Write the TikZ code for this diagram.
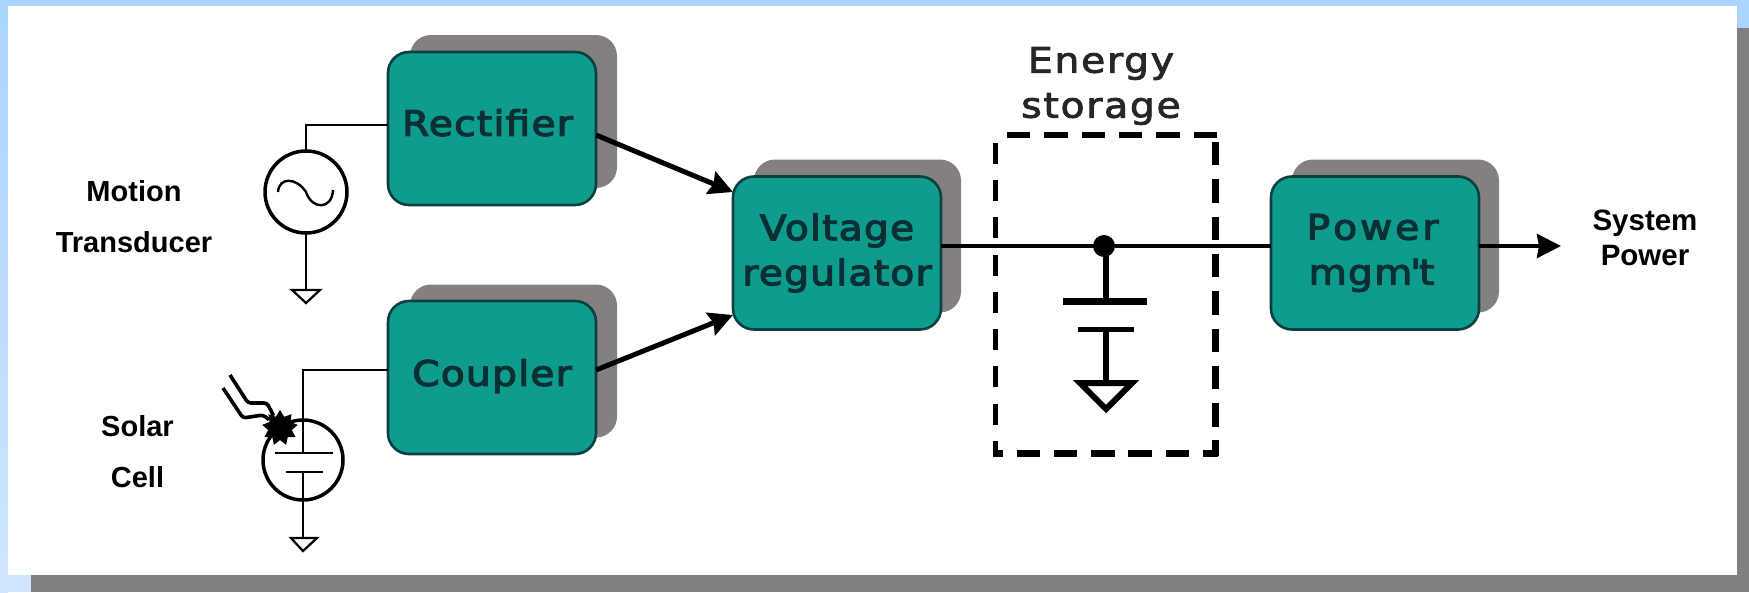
\documentclass[tikz,border=0pt]{standalone}
\usepackage{fontspec}
\usetikzlibrary{calc,arrows.meta,shapes.geometric}
\setmainfont{Liberation Sans}
\newfontfamily\boxfont[FakeStretch=1.12,LetterSpace=3.5,FakeBold=3.5]{DejaVu Sans}
\newfontfamily\capfont[FakeStretch=1.12,LetterSpace=5,FakeBold=2.5]{DejaVu Sans}
\definecolor{topblue}{HTML}{AAD4FF}
\definecolor{lowblue}{HTML}{CFE6FF}
\definecolor{framegray}{HTML}{808080}
\definecolor{shadowgray}{HTML}{858080}
\definecolor{tealfill}{HTML}{0F9C8D}
\definecolor{tealedge}{HTML}{0B3F42}
\definecolor{tealtext}{HTML}{0A2F35}
\tikzset{
  blockbox/.style={draw=tealedge,line width=2.6pt,fill=tealfill,rounded corners=21pt,
    minimum width=208pt,minimum height=153pt,inner sep=0pt,outer sep=0pt,
    text=tealtext,align=center,font=\boxfont\fontsize{35}{45}\selectfont},
  blockshade/.style={fill=shadowgray,rounded corners=21pt,
    minimum width=207pt,minimum height=153pt,inner sep=0pt,outer sep=0pt},
  srcring/.style={circle,draw=black,line width=3.5pt,fill=white,minimum size=82pt,inner sep=0pt,outer sep=0pt},
  thinwire/.style={draw=black,line width=2.2pt},
  thickwire/.style={draw=black,line width=4pt},
  feedarrow/.style={draw=black,line width=5pt,-{Stealth[length=24pt,width=24pt,inset=3pt]}},
  outarrow/.style={draw=black,line width=4pt,-{Stealth[length=24pt,width=24pt,inset=2pt]}},
  smalllabel/.style={align=center,inner sep=0pt,font=\bfseries\fontsize{29}{51}\selectfont},
  storeedge/.style={draw=black,line cap=butt},
}
\begin{document}
\begin{tikzpicture}[x=1pt,y=-1pt]
\useasboundingbox (0,0) rectangle (1749,592);
% frame
\fill[topblue] (0,0) rectangle (1749,592);
\shade[top color=topblue,bottom color=lowblue] (0,0) rectangle (8,592);
\fill[lowblue] (0,575) rectangle (31,592);
\fill[framegray] (1737,28) rectangle (1749,592);
\fill[framegray] (31,575) rectangle (1749,592);
\fill[white] (8,6) rectangle (1737,575);
% shadows
\node[blockshade] (rectshade) at (513.5,111.5) {};
\node[blockshade] (coupshade) at (513.5,361) {};
\node[blockshade] (voltshade) at (857.5,236) {};
\node[blockshade] (powshade) at (1395.5,236) {};
% blocks
\node[blockbox,text depth=12pt] (rect) at (492,128.5) {\hspace*{-9pt}Rectifier};
\node[blockbox,text depth=10pt] (coup) at (492,377.5) {Coupler};
\node[blockbox] (volt) at (837,253) {Voltage\\regulator};
\node[blockbox] (pow) at (1375,253) {\hspace*{-5pt}P\kern3pt o\kern3pt w\kern3pt e\kern3pt r\\\hspace*{-7pt}mgm\kern-2pt'\kern-2pt t};
% labels
\node[smalllabel] (motion) at (134,216.5) {Motion\\Transducer};
\node[smalllabel] (solar) at (137.5,452) {Solar\\Cell};
\node[smalllabel,font=\bfseries\fontsize{29.5}{35}\selectfont] (syspow) at (1645,237.5) {System\\Power};
\node[align=center,inner sep=0pt,font=\capfont\fontsize{35}{45}\selectfont,text=black!85] (enlabel) at (1101,86) {Energy\\storage};
% feed arrows
\draw[feedarrow] ($(rect.east)+(0,6.5)$) -- ($(volt.west)+(0,-61)$);
\draw[feedarrow] ($(coup.east)+(0,-7.5)$) -- ($(volt.west)+(0,62)$);
% AC source
\node[srcring] (acsrc) at (306,192) {};
\draw[line width=2.4pt] (278,192) .. controls (279,177) and (296,177) .. (306,192) .. controls (312,210) and (332,210) .. (333,190);
\coordinate (gndA) at (306,290);
\draw[thinwire] (acsrc.north) |- ($(rect.west)+(0,-3.5)$);
\draw[thinwire] (acsrc.south) -- (gndA);
\draw[thinwire,fill=white] ($(gndA)+(-14,0)$) -- ($(gndA)+(14,0)$) -- ($(gndA)+(0,13)$) -- cycle;
% Solar cell
\node[srcring,minimum size=80pt] (solsrc) at (303,460) {};
\coordinate (plateA) at (303,453);
\coordinate (plateB) at (303,472);
\coordinate (gndB) at (303,538);
\draw[thinwire] (plateA) |- ($(coup.west)+(0,-7.5)$);
\draw[thinwire] ($(plateA)+(-28,0)$) -- ($(plateA)+(30,0)$);
\draw[thinwire] ($(plateB)+(-17,0)$) -- ($(plateB)+(20,0)$);
\draw[thinwire] (plateB) -- (gndB);
\draw[thinwire,fill=white] ($(gndB)+(-12,0)$) -- ($(gndB)+(14,0)$) -- ($(gndB)+(0,13)$) -- cycle;
\node[star,star points=9,star point ratio=1.5,fill=black,inner sep=0pt,minimum size=36pt] (burst) at (280,428) {};
\draw[line width=3.6pt,rounded corners=3pt] (230,375) -- (248,403) -- (267,403) -- (burst);
\draw[line width=3.6pt,rounded corners=3pt] (223,388) -- (243,418) -- (263,415) -- (burst);
% main line
\draw[thickwire] ($(volt.east)+(0,-7)$) -- ($(pow.west)+(0,-7)$);
\draw[outarrow] ($(pow.east)+(0,-7)$) -- (1561,246);
% energy storage
\coordinate (junction) at (1106,246);
\fill[black] (1104,246) circle (11);
\coordinate (capA) at (1106,301);
\coordinate (capB) at (1106,329);
\coordinate (gndC) at (1106,383);
\draw[line width=5.5pt] (junction) -- (capA);
\draw[line width=7pt] ($(capA)+(-43,0)$) -- ($(capA)+(41,0)$);
\draw[line width=5pt] ($(capB)+(-28,0)$) -- ($(capB)+(28,0)$);
\draw[line width=5.5pt] (capB) -- (gndC);
\draw[line width=6pt,line join=miter,fill=white] ($(gndC)+(-26,0)$) -- ($(gndC)+(26,0)$) -- ($(gndC)+(0,26)$) -- cycle;
\coordinate (nw) at (995,135);
\coordinate (ne) at (1215,135);
\coordinate (se) at (1215,453);
\coordinate (sw) at (995,453);
\draw[storeedge,line width=6pt,dash pattern=on 23.4pt off 13.9pt] ($(nw)+(12,0)$) -- ($(ne)+(3,0)$);
\draw[storeedge,line width=7pt,dash pattern=on 23.4pt off 13.9pt] ($(ne)+(0,7)$) -- ($(se)+(0,3)$);
\draw[storeedge,line width=7pt,dash pattern=on 23.4pt off 13.9pt,dash phase=8.4pt] ($(se)+(3,0)$) -- ($(sw)+(-2,0)$);
\draw[storeedge,line width=5pt,dash pattern=on 21pt off 16.3pt,dash phase=6pt] ($(sw)+(0,3)$) -- ($(nw)+(0,5)$);
\end{tikzpicture}
\end{document}
